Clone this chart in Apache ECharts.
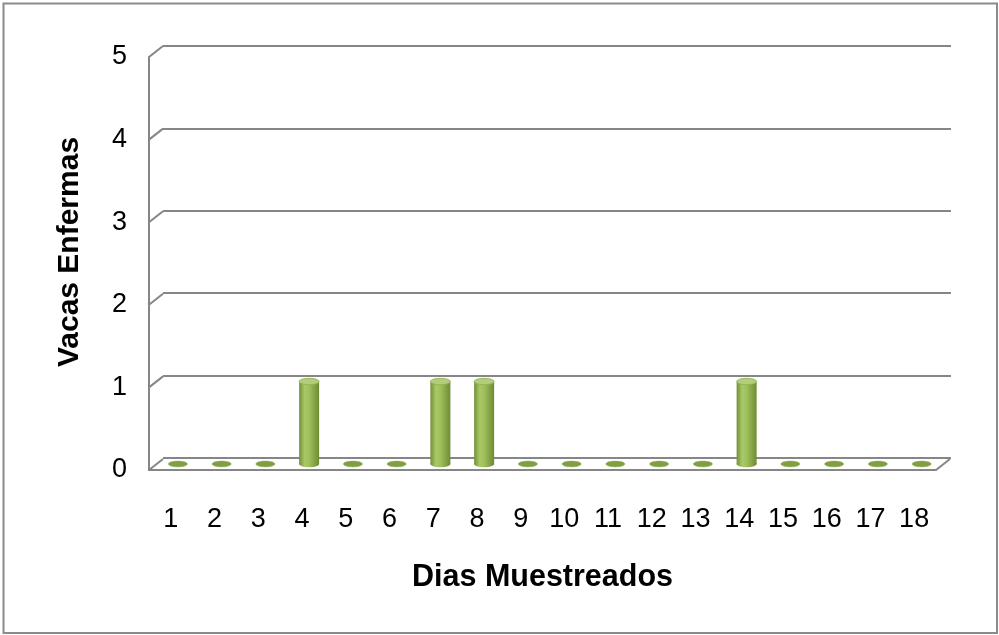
<!DOCTYPE html>
<html>
<head>
<meta charset="utf-8">
<script src="https://cdn.jsdelivr.net/npm/echarts@6/dist/echarts.min.js"></script>
<style>
  html, body { margin: 0; padding: 0; background: #ffffff; }
  #chart { width: 999px; height: 635px; }
</style>
</head>
<body>
<div id="chart"></div>
<script>
// ---- Data ----
const categories = ['1','2','3','4','5','6','7','8','9','10','11','12','13','14','15','16','17','18'];
const vacasEnfermas = [0,0,0,1,0,0,1,1,0,0,0,0,0,1,0,0,0,0];
const yTicks = [0,1,2,3,4,5];
const xTitle = 'Dias Muestreados';
const yTitle = 'Vacas Enfermas';

// ---- Styling ----
const FONT = 'Liberation Sans, Arial, sans-serif';
const GRID_GRAY = '#868686';
const DEPTH_DX = 14, DEPTH_DY = -11;

const chart = echarts.init(document.getElementById('chart'), null, { renderer: 'canvas' });

function wallRender(params, api) {
  const v = api.value(1);
  const p = api.coord([0, v]);
  const half = api.size([1, 0])[0] / 2;
  const xl = p[0] - half;
  const children = [{
    type: 'line',
    shape: { x1: xl, y1: p[1], x2: xl + DEPTH_DX, y2: p[1] + DEPTH_DY },
    style: { stroke: GRID_GRAY, lineWidth: 2 }
  }];
  if (v === 0) {
    const pr = api.coord([categories.length - 1, 0]);
    const xr = pr[0] + half;
    children.push({
      type: 'line',
      shape: { x1: xr, y1: pr[1], x2: xr + DEPTH_DX, y2: pr[1] + DEPTH_DY },
      style: { stroke: GRID_GRAY, lineWidth: 2 }
    });
  }
  return { type: 'group', children };
}

function barRender(params, api) {
  const idx = api.value(0);
  const val = api.value(1);
  const top = api.coord([idx, val]);
  const base = api.coord([idx, 0]);
  const cx = base[0];
  const rx = 10, ry = 3.2;
  if (val <= 0) {
    return {
      type: 'ellipse',
      shape: { cx: cx, cy: base[1], rx: 9.5, ry: 2.9 },
      style: { fill: '#7f9f42', stroke: '#93b156', lineWidth: 0.5 }
    };
  }
  const grad = new echarts.graphic.LinearGradient(0, 0, 1, 0, [
    { offset: 0, color: '#729036' },
    { offset: 0.28, color: '#a9c968' },
    { offset: 0.5, color: '#a0c05e' },
    { offset: 1, color: '#6d8b31' }
  ]);
  return {
    type: 'group',
    children: [
      { type: 'ellipse', shape: { cx: cx, cy: base[1], rx: rx, ry: ry }, style: { fill: grad } },
      { type: 'rect', shape: { x: cx - rx, y: top[1], width: rx * 2, height: base[1] - top[1] }, style: { fill: grad } },
      { type: 'ellipse', shape: { cx: cx, cy: top[1], rx: rx, ry: ry }, style: { fill: '#b2cd7c', stroke: '#8eac50', lineWidth: 0.8 } }
    ]
  };
}

const option = {
  backgroundColor: '#ffffff',
  animation: false,
  textStyle: { fontFamily: FONT },
  graphic: [{
    type: 'rect', silent: true, z: 100,
    shape: { x: 3.5, y: 3.5, width: 993.5, height: 629.5 },
    style: { fill: 'none', stroke: '#8a8a8a', lineWidth: 2 }
  }],
  grid: [
    // back wall
    { left: 163, right: 48, top: 46, bottom: 177, containLabel: false, outerBoundsMode: 'none' },
    // front plane (labels, axis lines)
    { left: 149, right: 63, top: 57, bottom: 165, containLabel: false, outerBoundsMode: 'none' },
    // middle depth (bars)
    { left: 156, right: 55.5, top: 51.5, bottom: 171, containLabel: false, outerBoundsMode: 'none' }
  ],
  xAxis: [
    { gridIndex: 0, type: 'category', data: categories, show: false },
    {
      gridIndex: 1, type: 'category', data: categories,
      axisLine: { show: true, lineStyle: { color: GRID_GRAY, width: 2 } },
      axisTick: { show: false },
      axisLabel: { color: '#000', fontSize: 27, fontFamily: FONT, margin: 36 },
      splitLine: { show: false },
      name: xTitle, nameLocation: 'middle', nameGap: 92,
      nameTextStyle: { color: '#000', fontSize: 30.5, fontWeight: 'bold', fontFamily: FONT }
    },
    { gridIndex: 2, type: 'category', data: categories, show: false }
  ],
  yAxis: [
    {
      gridIndex: 0, type: 'value', min: 0, max: 5, interval: 1,
      axisLine: { show: false }, axisTick: { show: false }, axisLabel: { show: false },
      splitLine: { show: true, lineStyle: { color: GRID_GRAY, width: 2 } },
      name: yTitle, nameLocation: 'middle', nameGap: 78, nameRotate: 90,
      nameTextStyle: { color: '#000', fontSize: 30, fontWeight: 'bold', fontFamily: FONT }
    },
    {
      gridIndex: 1, type: 'value', min: 0, max: 5, interval: 1,
      axisLine: { show: true, lineStyle: { color: GRID_GRAY, width: 2 } },
      axisTick: { show: false },
      axisLabel: { color: '#000', fontSize: 27, fontFamily: FONT, margin: 22 },
      splitLine: { show: false }
    },
    { gridIndex: 2, type: 'value', min: 0, max: 5, interval: 1, show: false, splitLine: { show: false } }
  ],
  series: [
    {
      type: 'custom', xAxisIndex: 1, yAxisIndex: 1, clip: false, silent: true, z: 3,
      data: yTicks.map(v => [0, v]),
      renderItem: wallRender
    },
    {
      type: 'custom', xAxisIndex: 2, yAxisIndex: 2, clip: false, silent: true, z: 4,
      data: vacasEnfermas.map((v, i) => [i, v]),
      renderItem: barRender
    }
  ]
};
chart.setOption(option);
</script>
</body>
</html>
